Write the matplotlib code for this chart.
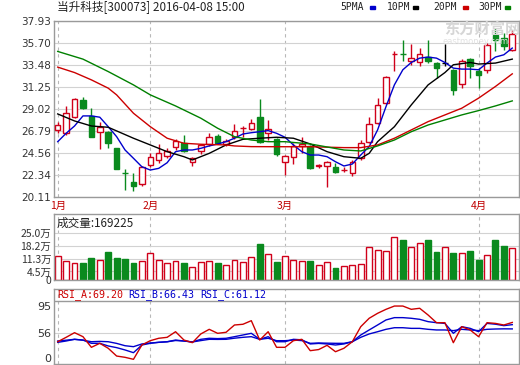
# 当升科技 日K线 + 成交量 + RSI
import numpy as np
import matplotlib
matplotlib.use('Agg')
import matplotlib.pyplot as plt
from matplotlib.patches import Rectangle

cjk = ['Noto Sans CJK SC', 'DejaVu Sans']
plt.rcParams['font.family'] = ['DejaVu Sans', 'Noto Sans CJK SC']

# ---- 数据 ----
opens = [26.94, 26.56, 28.25, 29.94, 28.32, 26.69, 26.66, 25.07, 22.55, 21.62,
         21.42, 23.35, 23.85, 24.26, 25.14, 25.61, 23.68, 24.80, 25.48, 26.26,
         25.48, 26.16, 27.05, 27.00, 28.19, 26.62, 25.95, 23.62, 24.13, 25.28,
         25.28, 23.26, 23.28, 23.17, 22.85, 22.50, 24.03, 25.71, 27.64, 29.61,
         34.58, 34.62, 33.83, 33.73, 34.28, 33.67, 33.67, 32.92, 31.57, 34.07,
         32.82, 32.92, 36.54, 36.20, 34.95]
closes = [27.38, 28.65, 30.04, 29.10, 26.22, 27.17, 25.55, 22.97, 22.50, 21.25,
          23.17, 24.13, 24.60, 24.80, 25.81, 24.77, 24.09, 25.38, 26.16, 25.61,
          25.81, 26.83, 27.09, 27.64, 25.68, 27.00, 24.43, 24.29, 25.28, 25.48,
          23.07, 23.30, 23.68, 22.66, 22.89, 23.68, 25.61, 27.48, 29.44, 32.31,
          34.62, 34.58, 34.17, 34.61, 33.83, 33.16, 33.67, 30.96, 33.93, 33.40,
          32.48, 35.53, 36.03, 35.42, 36.64]
highs = [27.74, 29.33, 30.15, 30.28, 29.13, 27.74, 26.80, 25.10, 22.91, 22.57,
         23.25, 24.60, 25.48, 25.10, 26.00, 26.36, 24.20, 25.50, 26.55, 26.50,
         26.00, 27.50, 27.25, 28.00, 30.04, 27.91, 26.10, 24.40, 25.60, 26.20,
         25.40, 23.50, 23.80, 23.55, 23.10, 23.90, 25.90, 28.19, 30.11, 32.40,
         34.92, 35.96, 35.63, 35.19, 35.96, 33.80, 35.63, 33.06, 34.07, 34.17,
         33.16, 35.70, 37.22, 36.71, 37.05]
lows = [26.62, 26.40, 28.10, 29.00, 26.20, 24.94, 25.07, 22.90, 20.81, 20.74,
        21.25, 23.17, 23.60, 24.10, 24.90, 24.70, 23.25, 24.50, 25.30, 25.50,
        25.30, 26.00, 26.16, 26.90, 25.60, 25.90, 24.30, 22.30, 23.45, 24.60,
        22.90, 23.00, 21.15, 22.50, 22.60, 22.20, 23.90, 25.60, 27.50, 29.50,
        32.82, 33.83, 33.50, 33.40, 33.67, 32.14, 33.33, 30.45, 31.13, 32.14,
        31.13, 32.70, 34.85, 35.02, 34.85]

# 成交量(万)
volumes = [12.7, 10.2, 9.2, 9.2, 11.6, 10.6, 15.0, 11.8, 11.3, 8.8,
           10.2, 14.3, 10.6, 9.2, 10.2, 8.8, 7.0, 9.7, 10.2, 8.8,
           7.9, 10.6, 9.7, 12.3, 19.2, 13.7, 9.7, 12.7, 10.6, 10.0,
           10.0, 7.9, 9.5, 6.3, 7.4, 7.9, 8.4, 17.2, 15.8, 15.3,
           22.5, 21.1, 17.2, 19.4, 21.1, 14.8, 17.2, 14.4, 14.1, 15.3,
           10.6, 13.2, 21.1, 18.0, 16.92]
last_volume = 169225

# 均线 (读图取点)
ma5 = [25.71, 26.56, 27.30, 28.32, 28.32, 28.19, 27.23, 26.22, 24.87, 24.03,
       23.17, 22.84, 23.01, 23.58, 24.70, 24.87, 24.87, 25.04, 25.28, 25.48,
       25.71, 26.06, 26.49, 26.62, 26.72, 26.83, 26.56, 26.16, 25.38, 24.70,
       24.36, 24.36, 24.19, 23.68, 23.25, 23.45, 24.36, 25.21, 26.90, 29.26,
       31.47, 32.99, 33.73, 34.17, 34.28, 34.17, 33.73, 33.16, 33.06, 33.06,
       32.99, 33.67, 34.28, 34.51, 35.19]
ma10_idx = [0, 2, 4, 6, 7, 9, 11, 13, 15, 16, 18, 20, 22, 24, 26, 28, 30, 32,
            34, 36, 37, 38, 40, 42, 44, 46, 47, 49, 50, 52, 54]
ma10 = [28.52, 27.81, 27.30, 27.17, 26.80, 26.06, 25.38, 24.70, 24.19, 23.86,
        24.53, 25.38, 25.95, 26.06, 26.16, 26.06, 25.48, 24.70, 24.19, 24.03,
        24.53, 25.71, 27.23, 29.43, 31.46, 32.71, 33.50, 33.73, 33.57, 33.67,
        34.07]
ma20_idx = [0, 2, 4, 6, 7, 9, 11, 13, 15, 17, 20, 21, 23, 27, 30, 34, 36, 38,
            40, 42, 44, 46, 48, 50, 52, 54]
ma20 = [33.26, 32.71, 31.97, 31.13, 30.45, 28.59, 27.23, 26.06, 25.55, 25.45,
        25.38, 25.28, 25.21, 25.20, 25.20, 25.11, 25.11, 25.38, 26.06, 26.90,
        27.74, 28.42, 29.10, 30.12, 31.30, 32.58]
ma30_idx = [0, 3, 6, 9, 11, 14, 17, 19, 21, 23, 25, 27, 30, 34, 36, 38, 40, 42,
            44, 46, 48, 50, 52, 54]
ma30 = [34.85, 34.07, 32.81, 31.46, 30.45, 29.33, 28.09, 27.07, 26.22, 25.88,
        25.71, 25.71, 25.48, 24.87, 24.77, 25.28, 25.88, 26.72, 27.40, 27.91,
        28.42, 28.86, 29.33, 29.84]

rsi_a = [45.1, 50.6, 56.4, 51.4, 38.1, 43.1, 36.9, 27.2, 25.6, 23.1,
         41.0, 46.4, 49.4, 50.6, 57.6, 47.2, 43.9, 54.8, 60.6, 55.6,
         56.9, 66.0, 66.9, 71.4, 47.2, 57.6, 38.1, 38.1, 46.4, 48.1,
         33.9, 35.3, 40.6, 32.6, 36.9, 45.1, 63.9, 74.4, 80.6, 85.6,
         89.7, 89.7, 85.6, 86.9, 78.5, 68.9, 68.9, 43.9, 63.9, 59.8,
         51.4, 68.9, 68.0, 66.0, 69.2]
rsi_b = [44.3, 46.0, 48.1, 47.2, 43.1, 43.1, 39.8, 37.7, 34.8, 31.4,
         41.0, 43.1, 44.4, 45.1, 47.2, 46.0, 44.8, 48.1, 49.4, 49.0,
         49.4, 51.4, 53.5, 55.6, 48.1, 51.4, 45.1, 45.1, 48.1, 47.5,
         42.3, 43.0, 42.3, 41.0, 42.3, 45.1, 53.5, 59.8, 66.0, 72.3,
         75.2, 75.2, 74.4, 73.1, 70.2, 68.9, 68.0, 55.6, 63.9, 61.8,
         57.6, 68.0, 67.0, 65.2, 66.43]
rsi_c = [46.0, 47.0, 48.1, 47.0, 45.1, 45.5, 45.1, 43.0, 40.1, 38.9,
         42.3, 43.5, 44.3, 45.0, 46.6, 46.0, 44.8, 46.5, 48.1, 48.0,
         48.1, 49.5, 50.6, 51.4, 48.1, 49.4, 46.4, 46.4, 47.2, 46.5,
         43.1, 43.5, 43.3, 43.1, 43.1, 45.1, 50.6, 54.8, 57.6, 60.6,
         62.6, 62.6, 61.8, 61.8, 60.6, 59.8, 59.8, 59.0, 60.6, 59.8,
         59.0, 60.6, 61.0, 61.2, 61.12]

month_idx = [0, 11, 27, 50]
month_labels = ['1月', '2月', '3月', '4月']
price_ticks = [20.11, 22.34, 24.56, 26.79, 29.02, 31.25, 33.48, 35.70, 37.93]
vol_ticks = [0, 4.5, 11.3, 18.2, 25.0]

RED = '#d0001a'
GREEN = '#0a8a1e'
BLUE = '#0000cc'
FRAME = '#9a9a9a'
GRID = '#d2d2d2'

W, H = 520, 365
fig = plt.figure(figsize=(W / 100, H / 100), dpi=100)
fig.patch.set_facecolor('white')


def box(top, bottom, left=54, right=519):
    return [left / W, 1 - bottom / H, (right - left) / W, (bottom - top) / H]


ax = fig.add_axes(box(21, 197))
axv = fig.add_axes(box(214, 280))
axr = fig.add_axes(box(289, 364))

n = len(opens)
x = np.arange(n)
xlim = (-0.44, 54.8)

for a in (ax, axv, axr):
    a.set_xlim(*xlim)
    for s in a.spines.values():
        s.set_color(FRAME)
        s.set_linewidth(1)
    a.tick_params(length=0, labelsize=7.5, colors='#333333', pad=2)
    for m in month_idx:
        a.axvline(m, color='#b8b8b8', lw=0.8, ls=(0, (3, 3)), zorder=0)

# ---- K线 ----
for i in range(n):
    o, c, h, l = opens[i], closes[i], highs[i], lows[i]
    if c > o:
        col, fc = RED, 'white'
    elif c < o:
        col, fc = GREEN, GREEN
    else:
        col, fc = 'black', 'black'
    ax.vlines(i, l, h, color=col, lw=1, zorder=2)
    ax.bar(i, max(abs(c - o), 0.02), bottom=min(o, c), width=0.66,
           facecolor=fc, edgecolor=col, lw=1, zorder=3)

ax.plot(x, ma5, color=BLUE, lw=1, zorder=4)
ax.plot(ma10_idx, ma10, color='black', lw=1, zorder=4)
ax.plot(ma20_idx, ma20, color='#cc0000', lw=1, zorder=4)
ax.plot(ma30_idx, ma30, color='#008000', lw=1, zorder=4)

ax.set_ylim(20.11, 37.93)
ax.set_yticks(price_ticks)
ax.set_yticklabels(['%.2f' % v for v in price_ticks])
ax.yaxis.grid(True, color=GRID, lw=0.8)
ax.set_axisbelow(True)
ax.set_xticks(month_idx)
ax.set_xticklabels(month_labels, color='#c00000', fontsize=7.5, family=cjk)
ax.tick_params(axis='x', pad=2.5)

# ---- 成交量 ----
for i in range(n):
    if closes[i] < opens[i]:
        axv.bar(i, volumes[i], width=0.7, facecolor=GREEN, edgecolor=GREEN, lw=1)
    else:
        axv.bar(i, volumes[i], width=0.7, facecolor='white', edgecolor=RED, lw=1)
axv.set_ylim(0, 34.9)
axv.set_yticks(vol_ticks)
axv.set_yticklabels(['0'] + ['%.1f万' % v for v in vol_ticks[1:]], family=cjk)
for v in vol_ticks[1:]:
    axv.axhline(v, color=GRID, lw=0.8, zorder=0)
axv.set_xticks([])

# ---- RSI ----
axr.plot(x, rsi_c, color=BLUE, lw=1)
axr.plot(x, rsi_b, color=BLUE, lw=1)
axr.plot(x, rsi_a, color='#cc0000', lw=1)
axr.set_ylim(17.25, 111)
axr.axhline(96, color=FRAME, lw=1)
axr.axhline(56, color=GRID, lw=0.8, zorder=0)
axr.set_yticks([17.25, 56, 95])
axr.set_yticklabels(['0', '56', '95'], fontsize=8)
labs = axr.get_yticklabels()
labs[0].set_va('bottom')
labs[2].set_va('top')
axr.set_xticks([])

# ---- 文字 ----
fig.text(57 / W, 1 - 7 / H, '当升科技[300073] 2016-04-08 15:00', fontsize=8.4,
         family=cjk, color='#222222', va='center', ha='left')

legend = [('5PMA', BLUE, 340, 370), ('10PM', 'black', 387, 413),
          ('20PM', '#cc0000', 433, 463), ('30PM', '#008000', 478, 505)]
for name, col, tx, bx in legend:
    fig.text(tx / W, 1 - 7 / H, name, fontsize=7, family='DejaVu Sans Mono',
             color='#222222', va='center', ha='left')
    fig.add_artist(Rectangle((bx / W, 1 - 8.5 / H), 5 / W, 3 / H,
                             transform=fig.transFigure, color=col))

fig.text(482 / W, 1 - 29 / H, '东方财富网', fontsize=11, family=cjk,
         color='#d6d6d6', ha='center', va='center', weight='bold')
fig.text(476 / W, 1 - 41 / H, 'eastmoney.com', fontsize=6, color='#e2e2e2',
         ha='center', va='center')

fig.text(57 / W, 1 - 223 / H, '成交量:%d' % last_volume, fontsize=8.4,
         family=cjk, color='#222222', va='center', ha='left')

rsi_titles = [('RSI_A:%.2f' % rsi_a[-1], '#cc0000', 57),
              ('RSI_B:%.2f' % rsi_b[-1], BLUE, 128),
              ('RSI_C:%.2f' % rsi_c[-1], BLUE, 200)]
for txt, col, tx in rsi_titles:
    fig.text(tx / W, 1 - 295 / H, txt, fontsize=7.2, family='DejaVu Sans Mono',
             color=col, va='center', ha='left')

fig.savefig('out.png', dpi=100)
